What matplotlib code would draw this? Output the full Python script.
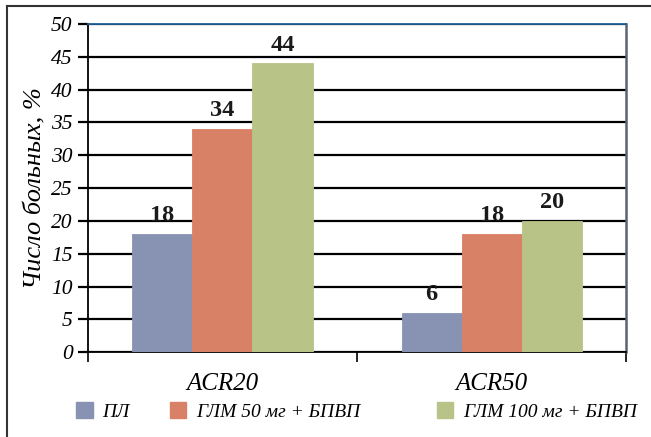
import numpy as np
import matplotlib.pyplot as plt
from matplotlib.lines import Line2D
from matplotlib.patches import Patch

plt.rcParams['font.family'] = ['Liberation Serif', 'DejaVu Serif']

# Доля больных с ответом по критериям ACR
categories = ['ACR20', 'ACR50']
series_names = ['ПЛ', 'ГЛМ 50 мг + БПВП', 'ГЛМ 100 мг + БПВП']
values = {
    'ПЛ': [18, 6],
    'ГЛМ 50 мг + БПВП': [34, 18],
    'ГЛМ 100 мг + БПВП': [44, 20],
}
colors = ['#8893B4', '#D98166', '#B8C387']
yticks = [0, 5, 10, 15, 20, 25, 30, 35, 40, 45, 50]

fig = plt.figure(figsize=(6.51, 4.37), dpi=100)
ax = fig.add_axes([0.135, 0.194, 0.827, 0.751])

x = np.arange(len(categories))
width = 0.223
for i, name in enumerate(series_names):
    pos = x + (i - 1) * width
    ax.bar(pos, values[name], width, color=colors[i], edgecolor=colors[i],
           linewidth=0.6, zorder=3)
    for px, v in zip(pos, values[name]):
        ax.text(px, v + 1.2, str(v), ha='center', va='bottom',
                fontsize=17.5, fontweight='bold', color='#1a1a1a', zorder=4)

ax.set_xlim(-0.5, 1.5)
ax.set_ylim(0, 50)
ax.set_yticks(yticks)
ax.set_yticklabels([str(t) for t in yticks], fontsize=15.5, style='italic')
ax.yaxis.grid(True, color='black', linewidth=1.6, zorder=0)
ax.set_axisbelow(True)

ax.set_xticks(x)
ax.set_xticklabels(categories, fontsize=18, style='italic')
ax.tick_params(axis='x', which='major', length=0, pad=15)
ax.set_xticks([-0.5, 0.5, 1.5], minor=True)
ax.tick_params(axis='x', which='minor', length=7, width=1.2, direction='out')
ax.tick_params(axis='y', length=7, width=1.6, direction='out', pad=4)

for side in ['left', 'bottom']:
    ax.spines[side].set_linewidth(1.3)
    ax.spines[side].set_color('black')
ax.spines['top'].set_color('#1f5f9a')
ax.spines['top'].set_linewidth(1.3)
ax.spines['right'].set_color('#5a6470')
ax.spines['right'].set_linewidth(1.8)

ax.set_ylabel('Число больных, %', fontsize=19, style='italic', labelpad=3)

# легенда: каждый элемент в своей колонке
legend_x = [0.117, 0.261, 0.671]
for name, c, lx in zip(series_names, colors, legend_x):
    fig.legend([Patch(facecolor=c, edgecolor=c)], [name], loc='center left',
               bbox_to_anchor=(lx, 0.058), frameon=False,
               prop={'size': 14, 'style': 'italic'},
               handlelength=0.85, handleheight=0.85, handletextpad=0.5,
               borderpad=0, borderaxespad=0)

# рамка вокруг рисунка
fig.add_artist(Line2D([0.011, 0.011], [0.0, 0.986], transform=fig.transFigure,
                      color='#333333', linewidth=1.5))
fig.add_artist(Line2D([0.011, 1.0], [0.986, 0.986], transform=fig.transFigure,
                      color='#333333', linewidth=1.5))

fig.savefig('out.png', dpi=100)
